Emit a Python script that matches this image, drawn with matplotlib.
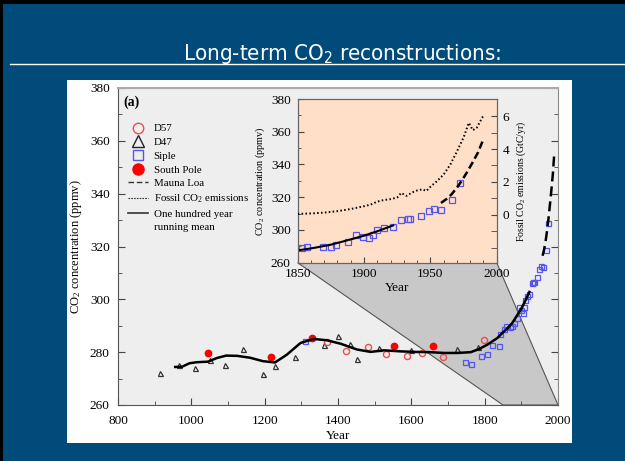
import matplotlib
matplotlib.use("Agg")
import matplotlib.pyplot as plt
from matplotlib.patches import Rectangle, Polygon
from matplotlib.lines import Line2D
from matplotlib.ticker import MultipleLocator, FixedLocator

# ---- values ----
mean_yr = [956, 975, 995, 1015, 1045, 1070, 1095, 1125, 1160, 1195, 1228, 1260,
           1298, 1334, 1370, 1407, 1452, 1489, 1525, 1571, 1610, 1650, 1690,
           1726, 1762, 1785, 1808, 1835, 1850, 1862, 1875, 1888, 1900, 1911, 1922]
mean_ppm = [274.4, 274.5, 275.8, 276.2, 276.4, 277.8, 278.7, 278.6, 277.9, 276.6,
            276.1, 279.0, 283.5, 285.0, 284.5, 283.2, 281.0, 280.1, 280.7, 280.3,
            280.1, 280.0, 279.7, 279.7, 280.0, 281.2, 282.9, 285.4, 287.5, 289.0,
            291.0, 293.8, 296.5, 299.5, 302.8]

d47_yr = [915, 965, 1010, 1050, 1092, 1141, 1195, 1227, 1284, 1363, 1400, 1434,
          1451, 1512, 1598, 1724, 1782]
d47_ppm = [272.1, 275.2, 274.0, 277.0, 275.2, 281.2, 271.6, 274.6, 278.2, 282.9,
           286.3, 283.2, 277.4, 281.6, 280.7, 281.2, 281.8]

d57_yr = [1370, 1423, 1482, 1530, 1587, 1630, 1687, 1797]
d57_ppm = [283.7, 280.3, 281.8, 279.3, 278.7, 279.7, 278.2, 284.5]

pole_yr = [1045, 1216, 1330, 1553, 1660]
pole_ppm = [279.5, 278.3, 285.3, 282.2, 282.2]

siple_yr = [1311, 1746, 1764, 1791, 1806, 1821, 1839, 1842,
            1853, 1857, 1869, 1875, 1879, 1888, 1894, 1899, 1904, 1907, 1910,
            1915, 1922, 1928, 1933, 1935, 1943, 1949, 1953, 1958, 1966, 1972]
siple_ppm = [284.1, 276.1, 275.6, 278.7, 279.3, 282.9, 282.2, 287.0,
             288.9, 289.8, 289.5, 289.8, 290.9, 292.9, 297.0, 296.0, 295.0, 297.0,
             299.7, 301.1, 302.1, 306.2, 306.7, 306.7, 308.3, 311.3, 312.8, 312.4,
             318.5, 328.8]

mlo_yr = [1958, 1962, 1966, 1970, 1974, 1978, 1982, 1986, 1990]
mlo_ppm = [316.5, 318.8, 321.8, 325.8, 330.5, 335.8, 341.5, 347.5, 355.5]

fossil_yr = [1850, 1860, 1870, 1880, 1890, 1900, 1905, 1910, 1915, 1920, 1925,
             1928, 1932, 1936, 1940, 1944, 1947, 1950, 1955, 1960, 1965, 1970,
             1975, 1979, 1982, 1985, 1990]
fossil_gtc = [0.05, 0.08, 0.13, 0.22, 0.35, 0.52, 0.62, 0.80, 0.90, 0.95, 1.05,
              1.33, 1.15, 1.35, 1.48, 1.55, 1.45, 1.70, 2.05, 2.45, 3.05, 3.85,
              4.70, 5.60, 5.15, 5.30, 6.05]

inset_yticks = [280, 300, 320, 340, 360, 380]
inset_ylabels = ["260", "300", "320", "340", "360", "380"]
fossil_ticks = [0, 2, 4, 6]
fossil_minor = [-2, -1, 1, 3, 5]

SERIF = ["Liberation Serif", "DejaVu Serif"]
plt.rcParams["font.family"] = SERIF
CO2 = r"CO$\mathregular{_2}$"

W, H = 625, 461
fig = plt.figure(figsize=(W / 100, H / 100), dpi=100)
fig.patch.set_facecolor("black")


def fx(px):
    return px / W


def fy(py):
    return 1 - py / H


# slide background, title, white panel
fig.add_artist(Rectangle((fx(3), 0), 1, fy(4), transform=fig.transFigure,
                         facecolor="#004B7A", edgecolor="none", zorder=-3))
fig.text(fx(342), fy(59.5), "Long-term " + CO2 + " reconstructions:", color="white",
         fontsize=16, ha="center", va="baseline", fontstretch="condensed",
         family=["DejaVu Sans"])
fig.add_artist(Line2D([fx(10), 1], [fy(64), fy(64)], transform=fig.transFigure,
                      color="white", lw=1))
fig.add_artist(Rectangle((fx(67), fy(443)), fx(572) - fx(67), fy(80) - fy(443),
                         transform=fig.transFigure, facecolor="white",
                         edgecolor="none", zorder=-2))

# ---- main axes ----
ax = fig.add_axes([fx(118), fy(405), fx(558) - fx(118), fy(88) - fy(405)])
ax.set_facecolor("#EEEEEE")
ax.set_xlim(800, 2000)
ax.set_ylim(260, 380)
ax.xaxis.set_major_locator(MultipleLocator(200))
ax.xaxis.set_minor_locator(MultipleLocator(100))
ax.yaxis.set_major_locator(MultipleLocator(20))
ax.yaxis.set_minor_locator(MultipleLocator(10))
ax.tick_params(which="both", direction="in", labelsize=9.5, color="#444444")
ax.tick_params(axis="y", which="both", right=True)
ax.tick_params(which="major", length=5)
ax.tick_params(which="minor", length=3)
ax.tick_params(axis="x", pad=7)
ax.tick_params(axis="y", pad=6)
for s in ax.spines.values():
    s.set_color("#555555")
ax.spines["top"].set_color("#AAAAAA")
ax.spines["top"].set_linewidth(1.5)
ax.spines["right"].set_color("#888888")
ax.set_xlabel("Year", fontsize=9.5, labelpad=2)
ax.set_ylabel(CO2 + " concentration (ppmv)", fontsize=9, labelpad=4)

ms = 3.6
ax.plot(d47_yr, d47_ppm, "^", ms=ms, mfc="none", mec="#333333", mew=0.9, zorder=3)
ax.plot(d57_yr, d57_ppm, "o", ms=ms + 0.8, mfc="none", mec="#E85050", mew=1.0, zorder=3)
ax.plot(siple_yr, siple_ppm, "s", ms=ms, mfc="none", mec="#5555F0", mew=0.9, zorder=3)
ax.plot(pole_yr, pole_ppm, "o", ms=ms + 1.0, mfc="#FF0000", mec="#FF0000", zorder=3)
ax.plot(mean_yr, mean_ppm, "-", color="black", lw=1.8, zorder=4)
ax.plot(mlo_yr, mlo_ppm, color="black", lw=1.8, dashes=(4, 2), zorder=4)

ax.text(0.012, 0.955, "(a)", transform=ax.transAxes, fontsize=10,
        fontweight="bold", va="center", ha="left")

handles = [
    Line2D([], [], ls="none", marker="o", ms=7.5, mfc="none", mec="#E85050", mew=1),
    Line2D([], [], ls="none", marker="^", ms=9, mfc="none", mec="#222222", mew=1),
    Line2D([], [], ls="none", marker="s", ms=6.5, mfc="none", mec="#5555F0", mew=1),
    Line2D([], [], ls="none", marker="o", ms=8, mfc="#FF0000", mec="#FF0000"),
    Line2D([], [], color="#333333", lw=1, dashes=(4, 2)),
    Line2D([], [], color="#333333", lw=0.8, dashes=(1.5, 1)),
    Line2D([], [], color="#333333", lw=1.2),
    Line2D([], [], ls="none"),
]
labels = ["D57", "D47", "Siple", "South Pole", "Mauna Loa",
          "Fossil " + CO2 + " emissions", "One hundred year", "running mean"]
ax.legend(handles, labels, loc="upper left", bbox_to_anchor=(0.022, 0.887),
          frameon=False, fontsize=7.8, handlelength=1.9, handletextpad=0.5,
          labelspacing=0.38, borderpad=0, borderaxespad=0)

# ---- inset ----
axin = fig.add_axes([fx(297.7), fy(262.7), fx(496.7) - fx(297.7), fy(99) - fy(262.7)])
axin.set_facecolor("#FFDFC8")
axin.set_xlim(1850, 2000)
axin.set_ylim(280, 380)
axin.set_yticks(inset_yticks, inset_ylabels)
axin.yaxis.set_minor_locator(MultipleLocator(10))
axin.xaxis.set_major_locator(MultipleLocator(50))
axin.xaxis.set_minor_locator(MultipleLocator(10))
axin.tick_params(which="both", direction="in", labelsize=9.5, color="#444444")
axin.tick_params(which="major", length=4)
axin.tick_params(which="minor", length=2.5)
axin.tick_params(axis="x", pad=4)
axin.tick_params(axis="y", pad=5)
for s in axin.spines.values():
    s.set_color("#666666")
axin.set_xlabel("Year", fontsize=9.5, labelpad=1)
axin.set_ylabel(CO2 + " concentration (ppmv)", fontsize=7.3, labelpad=3)

axin.plot(siple_yr, siple_ppm, "s", ms=4, mfc="none", mec="#5555F0", mew=0.9, zorder=3)
axin.plot(mean_yr, mean_ppm, "-", color="black", lw=1.5, zorder=4)
axin.plot(mlo_yr, mlo_ppm, color="black", lw=1.8, dashes=(3, 1.5), zorder=4)

axr = axin.twinx()
axr.set_ylim(-2.92, 7.05)
axr.yaxis.set_major_locator(FixedLocator(fossil_ticks))
axr.yaxis.set_minor_locator(FixedLocator(fossil_minor))
axr.tick_params(which="both", direction="in", labelsize=9.5, color="#444444", pad=4)
axr.tick_params(which="major", length=4)
axr.tick_params(which="minor", length=4)
for s in axr.spines.values():
    s.set_color("#666666")
axr.set_ylabel("Fossil " + CO2 + " emissions (GtC/yr)", fontsize=7, labelpad=4)
axr.plot(fossil_yr, fossil_gtc, color="black", lw=1.4, dashes=(0.8, 1.2), zorder=4)

# grey wedge linking the inset with the 1850-2000 part of the main axes
p0 = ax.transData.inverted().transform(axin.transAxes.transform((0, 0)))
p1 = ax.transData.inverted().transform(axin.transAxes.transform((1, 0)))
ax.add_patch(Polygon([p0, p1, (2000, 260), (1850, 260)], closed=True,
                     facecolor="#C8C8C8", edgecolor="#555555", lw=0.8, zorder=1))

fig.savefig("out.png", dpi=100, facecolor=fig.get_facecolor())
